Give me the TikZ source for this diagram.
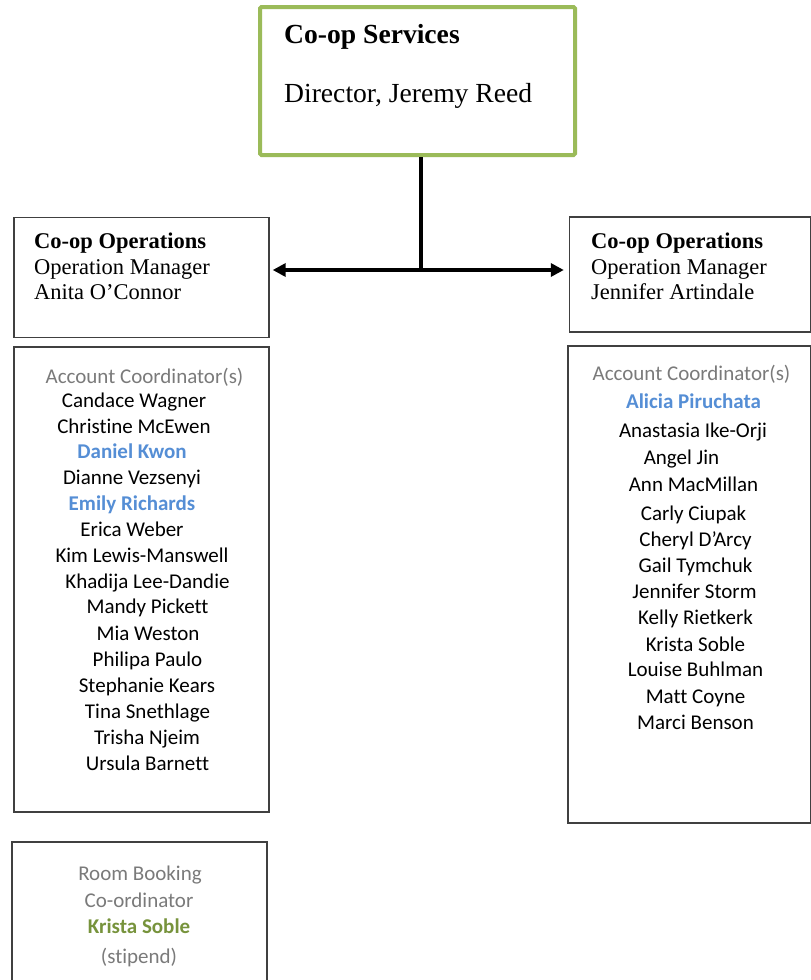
\documentclass[tikz,border=0pt]{standalone}
\usepackage{fontspec}
\setmainfont{Liberation Serif}
\newfontfamily\listfont[Ligatures=NoCommon]{Carlito}
\usetikzlibrary{arrows.meta}
\definecolor{leafgreen}{HTML}{9BBB59}
\definecolor{namegreen}{HTML}{77933C}
\definecolor{nameblue}{HTML}{558ED5}
\definecolor{labelgray}{HTML}{7A7A7A}
\definecolor{framegray}{HTML}{404040}
\tikzset{
  box/.style={draw=framegray, line width=1.4pt, inner sep=0pt},
  topbox/.style={draw=leafgreen, line width=4pt, inner sep=0pt, rounded corners=1.5pt},
  head/.style={inner sep=0pt, anchor=base west, font=\fontsize{27.6}{33}\selectfont},
  ophead/.style={inner sep=0pt, anchor=base west, font=\fontsize{22.5}{27}\selectfont},
  entry/.style={inner sep=0pt, anchor=base, font=\listfont\fontsize{21}{25}\selectfont},
  role/.style={entry, text=labelgray},
  lead/.style={entry, text=nameblue, font=\listfont\bfseries\fontsize{21}{25}\selectfont},
  link/.style={line width=4pt, black},
  tip/.style={-{Triangle[length=13pt,width=13pt]}},
}
\begin{document}
\begin{tikzpicture}[x=1pt, y=-1pt]
\useasboundingbox (0,0) rectangle (811,980);

% director box
\node[topbox, minimum width=315pt, minimum height=148pt] (dir) at (417.5,81) {};
\node[head] (dirT) at (284,43) {\bfseries Co-op Services};
\node[head] (dirN) at (284,102) {Director, Jeremy Reed};

% operations boxes
\node[box, minimum width=255pt, minimum height=120pt] (opL) at (141.5,277.5) {};
\node[ophead] (opLa) at (34,248) {\bfseries Co-op Operations};
\node[ophead] (opLb) at (34,274) {Operation Manager};
\node[ophead] (opLc) at (34,299) {Anita O’Connor};

\node[box, minimum width=241pt, minimum height=115pt] (opR) at (690,274.5) {};
\node[ophead] (opRa) at (591,248) {\bfseries Co-op Operations};
\node[ophead] (opRb) at (591,274) {Operation Manager};
\node[ophead] (opRc) at (591,299) {Jennifer Artindale};

% connectors: trunk from the director, then a split arrow to both managers
\coordinate (jn) at (421,270);
\coordinate (tipL) at ([xshift=3pt]opL.east |- jn);
\coordinate (tipR) at ([xshift=-5pt]opR.west |- jn);
\draw[link] (dir.south -| jn) -- (jn);
\draw[link, tip] (jn) -- (tipL);
\draw[link, tip] (jn) -- (tipR);

% left coordinators
\node[box, minimum width=255pt, minimum height=465pt] (acL) at (141.5,579.5) {};
\node[role]  (l0)  at (144.5,383) {Account Coordinator(s)};
\node[entry] (l1)  at (134,407) {Candace Wagner};
\node[entry] (l2)  at (134,433) {Christine McEwen};
\node[lead]  (l3)  at (132,458) {Daniel Kwon};
\node[entry] (l4)  at (132,484) {Dianne Vezsenyi};
\node[lead]  (l5)  at (132,510) {Emily Richards};
\node[entry] (l6)  at (132,536) {Erica Weber};
\node[entry] (l7)  at (142,562) {Kim Lewis-Manswell};
\node[entry] (l8)  at (147.5,588) {Khadija Lee-Dandie};
\node[entry] (l9)  at (147.5,613) {Mandy Pickett};
\node[entry] (l10) at (148,640) {Mia Weston};
\node[entry] (l11) at (147.5,666) {Philipa Paulo};
\node[entry] (l12) at (147,692) {Stephanie Kears};
\node[entry] (l13) at (147.5,718) {Tina Snethlage};
\node[entry] (l14) at (147,744) {Trisha Njeim};
\node[entry] (l15) at (147.5,770) {Ursula Barnett};

% right coordinators
\node[box, minimum width=243pt, minimum height=477pt] (acR) at (689.5,584.5) {};
\node[role]  (r0)  at (691.5,380) {Account Coordinator(s)};
\node[lead]  (r1)  at (693.5,408) {Alicia Piruchata};
\node[entry] (r2)  at (693,437) {Anastasia Ike-Orji};
\node[entry] (r3)  at (681.5,464) {Angel Jin};
\node[entry] (r4)  at (693.5,491) {Ann MacMillan};
\node[entry] (r5)  at (693.5,520) {Carly Ciupak};
\node[entry] (r6)  at (695.5,546) {Cheryl D’Arcy};
\node[entry] (r7)  at (695.5,572) {Gail Tymchuk};
\node[entry] (r8)  at (694.5,598) {Jennifer Storm};
\node[entry] (r9)  at (695.5,624) {Kelly Rietkerk};
\node[entry] (r10) at (695.5,651) {Krista Soble};
\node[entry] (r11) at (695.5,676) {Louise Buhlman};
\node[entry] (r12) at (695.5,703) {Matt Coyne};
\node[entry] (r13) at (695.5,729) {Marci Benson};

% room booking (runs off the bottom edge)
\draw[framegray, line width=1.4pt] (12,990) -- (12,842) coordinate (rbTL) -- (267,842) -- (267,990);
\node[role] (rb1) at (140,880) {Room Booking};
\node[role] (rb2) at (139,907) {Co-ordinator};
\node[entry, text=namegreen, font=\listfont\bfseries\fontsize{21}{25}\selectfont] (rb3) at (139,933) {Krista Soble};
\node[role] (rb4) at (139,963) {(stipend)};
\end{tikzpicture}
\end{document}
